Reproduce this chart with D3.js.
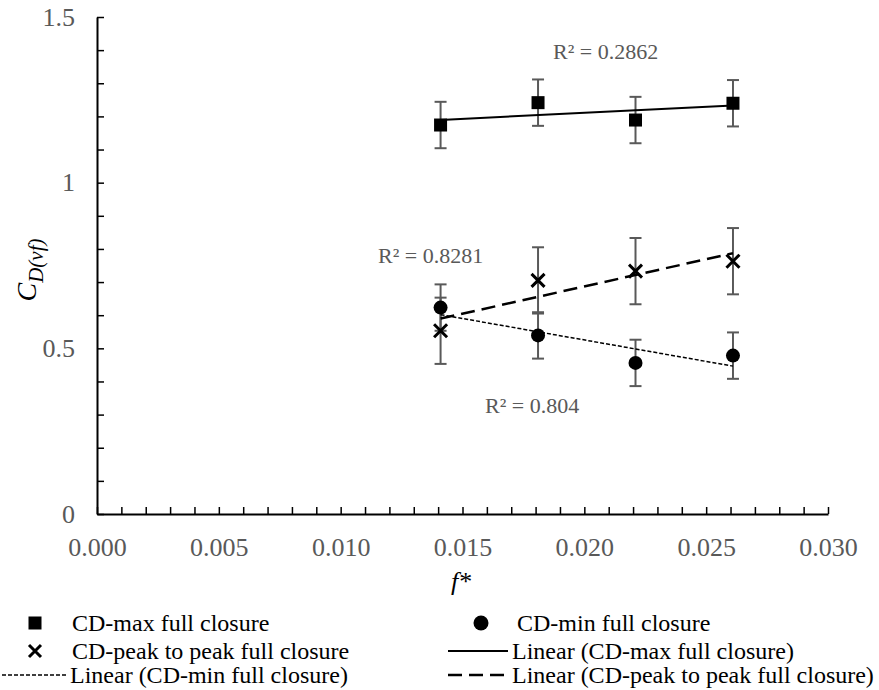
<!DOCTYPE html>
<html><head><meta charset="utf-8">
<script src="https://cdn.jsdelivr.net/npm/d3@7/dist/d3.min.js"></script>
<style>
body{margin:0;background:#fff;}
svg{display:block;}
svg text{font-family:"Liberation Serif","Times New Roman",serif;}
</style></head>
<body><svg id="chart" width="879" height="690"></svg>
<script>
// ---- data ----
const fStar = [0.0141, 0.0181, 0.0221, 0.0261];
const cdMax = [1.174, 1.2415, 1.189, 1.2397];
const cdMaxErr = [0.07, 0.07, 0.07, 0.07];
const cdPeak = [0.553, 0.705, 0.733, 0.763];
const cdPeakErr = [0.1, 0.1, 0.1, 0.1];
const cdMin = [0.623, 0.539, 0.456, 0.478];
const cdMinErr = [0.07, 0.07, 0.07, 0.07];
const xMajorTicks = [0, 0.005, 0.010, 0.015, 0.020, 0.025, 0.030];
const yMajorTicks = [0, 0.5, 1, 1.5];
const r2Labels = ["R² = 0.2862", "R² = 0.8281", "R² = 0.804"];
const legendLabels = ["CD-max full closure", "CD-min full closure", "CD-peak to peak full closure",
  "Linear (CD-max full closure)", "Linear (CD-min full closure)", "Linear (CD-peak to peak full closure)"];

const svg = d3.select("#chart");
const x = d3.scaleLinear().domain([0, 0.03]).range([97, 828]);
const y = d3.scaleLinear().domain([0, 1.5]).range([514, 17]);
const gray = "#595959";
const serif = "'Liberation Serif', 'Times New Roman', serif";

// minor tick values
const xMinor = d3.range(0, 31).map(i => i / 1000);
const yMinor = d3.range(0, 16).map(i => i / 10);

// axes
const gx = svg.append("g").attr("transform", `translate(0,${y(0)})`)
  .call(d3.axisBottom(x).tickValues(xMinor).tickSizeInner(-7).tickSizeOuter(0).tickFormat(""));
const gy = svg.append("g").attr("transform", `translate(${x(0)},0)`)
  .call(d3.axisLeft(y).tickValues(yMinor).tickSizeInner(-7).tickSizeOuter(0).tickFormat(""));
[gx, gy].forEach(g => {
  g.selectAll("path.domain").attr("stroke", "#000").attr("stroke-width", 2);
  g.selectAll(".tick line").attr("stroke", "#000").attr("stroke-width", 1.5);
});
const lx = svg.append("g").attr("transform", `translate(0,${y(0)})`)
  .call(d3.axisBottom(x).tickValues(xMajorTicks).tickSize(0).tickPadding(24).tickFormat(d3.format(".3f")));
const ly = svg.append("g").attr("transform", `translate(${x(0)},0)`)
  .call(d3.axisLeft(y).tickValues(yMajorTicks).tickSize(0).tickPadding(22).tickFormat(d => String(d)));
[lx, ly].forEach(g => {
  g.attr("font-family", serif).attr("font-size", 26);
  g.select("path.domain").remove();
  g.selectAll("text").style("font-family", serif).style("font-size", "26px").attr("fill", gray);
});

// axis titles
svg.append("text").attr("x", 461).attr("y", 590).attr("text-anchor", "middle")
  .style("font-size", "26px").attr("font-style", "italic").attr("fill", "#000").text("f*");
const yt = svg.append("text").attr("transform", "translate(36,270) rotate(-90)")
  .attr("text-anchor", "middle").attr("font-style", "italic").attr("fill", "#000");
yt.append("tspan").style("font-size", "28px").text("C");
yt.append("tspan").style("font-size", "21px").attr("dy", 7).text("D(vf)");

// regression helper
function fit(xs, ys) {
  const mx = d3.mean(xs), my = d3.mean(ys);
  let sxy = 0, sxx = 0;
  xs.forEach((v, i) => { sxy += (v - mx) * (ys[i] - my); sxx += (v - mx) ** 2; });
  const b = sxy / sxx, a = my - b * mx;
  return v => a + b * v;
}
const xEnds = d3.extent(fStar);
function trend(ys, dash, width) {
  const f = fit(fStar, ys);
  svg.append("line").attr("x1", x(xEnds[0])).attr("y1", y(f(xEnds[0])))
    .attr("x2", x(xEnds[1])).attr("y2", y(f(xEnds[1])))
    .attr("stroke", "#000").attr("stroke-width", width).attr("stroke-dasharray", dash);
}

// error bars
function errBars(ys, es) {
  const g = svg.append("g").attr("stroke", gray).attr("stroke-width", 2);
  fStar.forEach((v, i) => {
    const cx = x(v), y1 = y(ys[i] + es[i]), y2 = y(ys[i] - es[i]);
    g.append("line").attr("x1", cx).attr("x2", cx).attr("y1", y1).attr("y2", y2);
    g.append("line").attr("x1", cx - 6).attr("x2", cx + 6).attr("y1", y1).attr("y2", y1);
    g.append("line").attr("x1", cx - 6).attr("x2", cx + 6).attr("y1", y2).attr("y2", y2);
  });
}
errBars(cdMax, cdMaxErr);
errBars(cdPeak, cdPeakErr);
errBars(cdMin, cdMinErr);

trend(cdMax, null, 2);
trend(cdPeak, "14,7", 2.5);
trend(cdMin, "4,2", 1.5);

// markers
function square(g, cx, cy, s) {
  g.append("rect").attr("x", cx - s / 2).attr("y", cy - s / 2).attr("width", s).attr("height", s).attr("fill", "#000");
}
function cross(g, cx, cy, s) {
  const h = s / 2;
  g.append("path").attr("d", `M${cx - h},${cy - h}L${cx + h},${cy + h}M${cx - h},${cy + h}L${cx + h},${cy - h}`)
    .attr("stroke", "#000").attr("stroke-width", 3).attr("fill", "none");
}
const mk = svg.append("g");
fStar.forEach((v, i) => {
  square(mk, x(v), y(cdMax[i]), 13);
  cross(mk, x(v), y(cdPeak[i]), 13);
  mk.append("circle").attr("cx", x(v)).attr("cy", y(cdMin[i])).attr("r", 7).attr("fill", "#000");
});

// R² labels
const r2Pos = [[553, 59], [378, 263], [485, 413]];
r2Labels.forEach((t, i) => {
  svg.append("text").attr("x", r2Pos[i][0]).attr("y", r2Pos[i][1]).style("font-size", "22px")
    .attr("fill", gray).text(t);
});

// legend
const lg = svg.append("g").attr("fill", "#000");
const rows = [623, 651, 675];
function ltext(xp, yp, t) { lg.append("text").attr("x", xp).attr("y", yp).attr("dy", "0.32em").style("font-size", "24px").text(t); }
square(lg, 35, rows[0], 13);
ltext(72, rows[0], legendLabels[0]);
lg.append("circle").attr("cx", 481).attr("cy", rows[0]).attr("r", 7.5).attr("fill", "#000");
ltext(517, rows[0], legendLabels[1]);
cross(lg, 35, rows[1], 12);
ltext(72, rows[1], legendLabels[2]);
lg.append("line").attr("x1", 448).attr("x2", 508).attr("y1", rows[1]).attr("y2", rows[1]).attr("stroke", "#000").attr("stroke-width", 2);
ltext(512, rows[1], legendLabels[3]);
lg.append("line").attr("x1", 2).attr("x2", 67).attr("y1", rows[2]).attr("y2", rows[2]).attr("stroke", "#000").attr("stroke-width", 1.5).attr("stroke-dasharray", "4,2");
ltext(70, rows[2], legendLabels[4]);
lg.append("line").attr("x1", 448).attr("x2", 508).attr("y1", rows[2]).attr("y2", rows[2]).attr("stroke", "#000").attr("stroke-width", 2.5).attr("stroke-dasharray", "14,7");
ltext(512, rows[2], legendLabels[5]);
</script></body></html>
